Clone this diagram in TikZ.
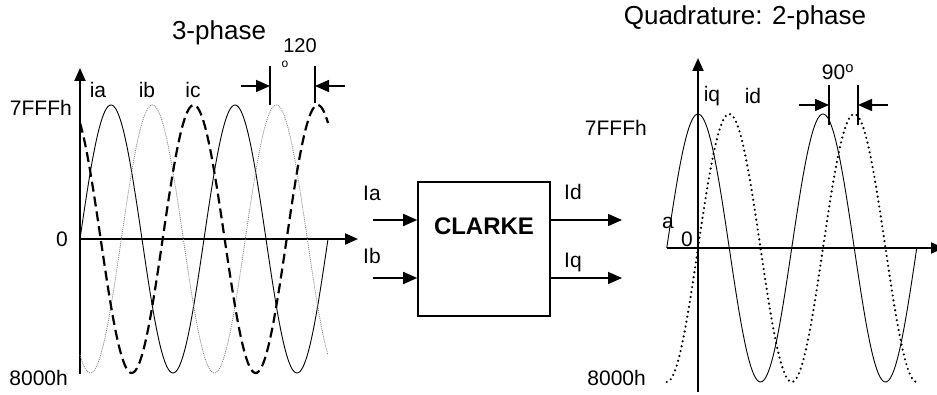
\documentclass[tikz,border=0pt]{standalone}
\usepackage{fontspec}
\setmainfont{Liberation Sans}
\usetikzlibrary{arrows.meta}

\begin{document}
\begin{tikzpicture}[x=1pt,y=-1pt,
  axisline/.style={line width=2pt,-{Triangle[length=13pt,width=11pt]}},
  flow/.style={line width=1.6pt,-{Triangle[length=14pt,width=12pt]}},
  tick/.style={line width=1.6pt},
  lbl/.style={inner sep=0pt,font=\fontsize{21}{24}\selectfont},
  ttl/.style={inner sep=0pt,font=\fontsize{26}{30}\selectfont},
  wave/.style={line width=0.9pt,samples=200,smooth}]

\useasboundingbox (0,0) rectangle (937,395);

% 3-phase
\draw[axisline] (80,374) -- (80,68);
\draw[axisline] (80,239) -- (358,239);
\draw[wave,domain=0:720] plot ({80+\x/360*124},{239-134*sin(\x)});
\draw[wave,gray,line width=0.8pt,dash pattern=on 1pt off 1pt,domain=0:720] plot ({80+\x/360*124},{239-134*sin(\x-120)});
\draw[wave,line width=2.2pt,dash pattern=on 10pt off 5pt,domain=0:720] plot ({80+\x/360*124},{239-134*sin(\x+120)});

\node[ttl] (title3) at (219,33) {3-phase};
\node[lbl] (ia) at (98,90) {ia};
\node[lbl] (ib) at (147,90) {ib};
\node[lbl] (ic) at (193,90) {ic};
\node[lbl,anchor=east] (top3) at (72,108) {7FFFh};
\node[lbl,anchor=east] (zero3) at (68,239) {0};
\node[lbl,anchor=east] (bot3) at (68,378) {8000h};

\coordinate (m1a) at (270,66);
\coordinate (m1b) at (270,105);
\coordinate (m2a) at (315,66);
\coordinate (m2b) at (315,103);
\draw[tick] (m1a) -- (m1b);
\draw[tick] (m2a) -- (m2b);
\coordinate (m1in) at (241,86);
\coordinate (m2in) at (345,86);
\draw[flow] (m1in) -- (m1in -| m1a);
\draw[flow] (m2in) -- (m2in -| m2a);
\node[lbl,font=\fontsize{20}{24}\selectfont] (deg3) at (300,46) {120};
\node[lbl,font=\fontsize{12}{14}\selectfont] (deg3o) at (285,64) {o};

% block
\node[draw,line width=1.6pt,minimum width=132pt,minimum height=134pt] (clarke) at (484,249) {};
\node[inner sep=0pt,font=\fontsize{24}{28}\selectfont\bfseries] (clarkelbl) at (484,226) {CLARKE};
\coordinate (ina) at (373,220);
\coordinate (inb) at (373,278);
\coordinate (outd) at (622,220);
\coordinate (outq) at (622,278);
\draw[flow] (ina) -- (ina -| clarke.west);
\draw[flow] (inb) -- (inb -| clarke.west);
\draw[flow] (outd -| clarke.east) -- (outd);
\draw[flow] (outq -| clarke.east) -- (outq);
\node[lbl] (Ia) at (372,193) {Ia};
\node[lbl] (Ib) at (372,256) {Ib};
\node[lbl] (Id) at (573,192) {Id};
\node[lbl] (Iq) at (573,262) {Iq};

% 2-phase
\draw[axisline] (698,392) -- (698,58);
\draw[axisline] (667,248) -- (944,248);
\draw[wave,domain=-90:630] plot ({698+\x/360*125},{248-134*cos(\x)});
\draw[wave,line width=2.4pt,line cap=round,dash pattern=on 0pt off 5pt,domain=-90:630] plot ({698+\x/360*125},{248-134*sin(\x)});

\node[ttl] (title2) at (745,18) {Quadrature: 2-phase};
\node[lbl] (iq) at (712,96) {iq};
\node[lbl] (id) at (753,96) {id};
\node[lbl,anchor=east] (top2) at (647,128) {7FFFh};
\node[lbl] (zero2) at (687,239) {0};
\node[lbl] (a2) at (668,223) {a};
\node[lbl,anchor=east] (bot2) at (646,378) {8000h};

\coordinate (n1a) at (829,85);
\coordinate (n1b) at (829,125);
\coordinate (n2a) at (858,85);
\coordinate (n2b) at (858,125);
\draw[tick] (n1a) -- (n1b);
\draw[tick] (n2a) -- (n2b);
\coordinate (n1in) at (799,105);
\coordinate (n2in) at (888,105);
\draw[flow] (n1in) -- (n1in -| n1a);
\draw[flow] (n2in) -- (n2in -| n2a);
\node[lbl] (deg2) at (838,72) {90\textsuperscript{o}};
\end{tikzpicture}
\end{document}
